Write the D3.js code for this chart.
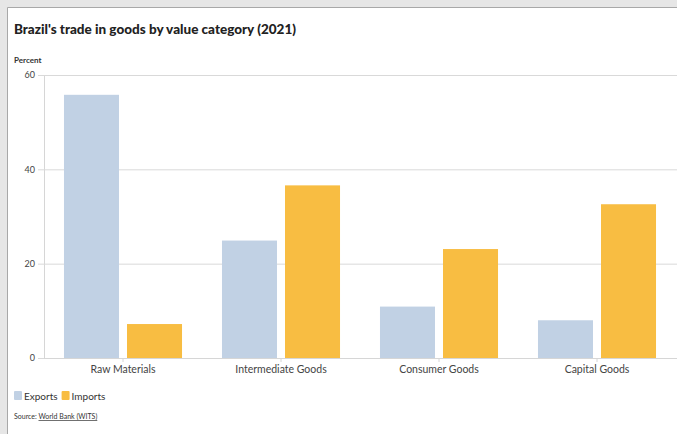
<!DOCTYPE html>
<html>
<head>
<meta charset="utf-8">
<script src="https://cdn.jsdelivr.net/npm/d3@7"></script>
<style>
  html, body { margin: 0; padding: 0; background: #e6e6e6; }
  svg { display: block; }
</style>
</head>
<body>
<svg id="chart" width="677" height="434"></svg>
<script>
// Brazil's trade in goods by value category, 2021 (share of total, %)
const categories = ["Raw Materials", "Intermediate Goods", "Consumer Goods", "Capital Goods"];
const seriesNames = ["Exports", "Imports"];
const exportsPct = [55.8, 24.9, 10.9, 8.0];
const importsPct = [7.2, 36.6, 23.1, 32.6];
const yTicks = [0, 20, 40, 60];

const colors = { Exports: "#c1d1e4", Imports: "#f8bd42" };
const FONT = "Lato, 'Open Sans', sans-serif";

const svg = d3.select("#chart");
const W = 677, H = 434;

// white card with a thin frame on the top and left
svg.append("rect").attr("x", 8).attr("y", 8).attr("width", W - 8).attr("height", H - 8).attr("fill", "#ffffff");
svg.append("line").attr("x1", 7.5).attr("x2", 7.5).attr("y1", 7.5).attr("y2", H).attr("stroke", "#a8a8a8");
svg.append("line").attr("x1", 7.5).attr("x2", W).attr("y1", 7.5).attr("y2", 7.5).attr("stroke", "#a8a8a8");

const margin = { left: 44, right: 1, top: 75, bottom: 358 };

const x = d3.scaleBand().domain(categories).range([margin.left, W - margin.right]).paddingInner(0).paddingOuter(0);
const inner = d3.scaleBand().domain(seriesNames).range([0, x.bandwidth()]).paddingInner(0.127).paddingOuter(0.317);
const y = d3.scaleLinear().domain([0, 60]).range([margin.bottom, margin.top]);

// title
svg.append("text").attr("x", 14).attr("y", 34)
  .attr("font-family", FONT).attr("font-weight", 900).attr("font-size", 13.5).attr("fill", "#222")
  .text("Brazil's trade in goods by value category (2021)");

svg.append("text").attr("x", 14).attr("y", 63)
  .attr("font-family", FONT).attr("font-weight", 700).attr("font-size", 8).attr("fill", "#333")
  .text("Percent");

// gridlines + y axis
const yAxis = d3.axisLeft(y).tickValues(yTicks).tickSize(-(W - margin.left)).tickPadding(9);
const gy = svg.append("g").attr("transform", `translate(${margin.left},0)`).call(yAxis);
gy.select(".domain").attr("stroke", "#d6d6d6");
gy.selectAll(".tick line").attr("stroke", "#d9d9d9").attr("x1", -6);
gy.selectAll(".tick text").attr("font-family", FONT).attr("font-size", 9).attr("fill", "#444");

// bars
const rows = categories.map((c, i) => ({ cat: c, Exports: exportsPct[i], Imports: importsPct[i] }));
const groups = svg.append("g").selectAll("g").data(rows).join("g")
  .attr("transform", d => `translate(${x(d.cat)},0)`);
groups.selectAll("rect").data(d => seriesNames.map(s => ({ s, v: d[s] }))).join("rect")
  .attr("x", d => inner(d.s))
  .attr("width", inner.bandwidth())
  .attr("y", d => y(d.v))
  .attr("height", d => y(0) - y(d.v))
  .attr("fill", d => colors[d.s]);

// x axis
const xAxis = d3.axisBottom(x).tickSize(4).tickPadding(4);
const gx = svg.append("g").attr("transform", `translate(0,${margin.bottom})`).call(xAxis);
gx.select(".domain").attr("stroke", "#d6d6d6").attr("d", `M${margin.left},0.5H${W}`);
gx.selectAll(".tick line").attr("stroke", "#d6d6d6");
gx.selectAll(".tick text").attr("font-family", FONT).attr("font-size", 10.5).attr("fill", "#444");

// legend
const legend = svg.append("g").attr("transform", "translate(14,391)");
let lx = 0;
seriesNames.forEach(s => {
  const g = legend.append("g").attr("transform", `translate(${lx},0)`);
  g.append("rect").attr("width", 8).attr("height", 9).attr("rx", 1).attr("fill", colors[s]);
  const t = g.append("text").attr("x", 10).attr("y", 8.5)
    .attr("font-family", FONT).attr("font-size", 10).attr("fill", "#333").text(s);
  lx += 10 + t.node().getComputedTextLength() + 4;
});

// source line
const src = svg.append("text").attr("x", 14).attr("y", 419)
  .attr("font-family", FONT).attr("font-size", 7).attr("fill", "#333");
src.append("tspan").text("Source: ");
src.append("tspan").attr("text-decoration", "underline").text("World Bank (WITS)");
</script>
</body>
</html>
